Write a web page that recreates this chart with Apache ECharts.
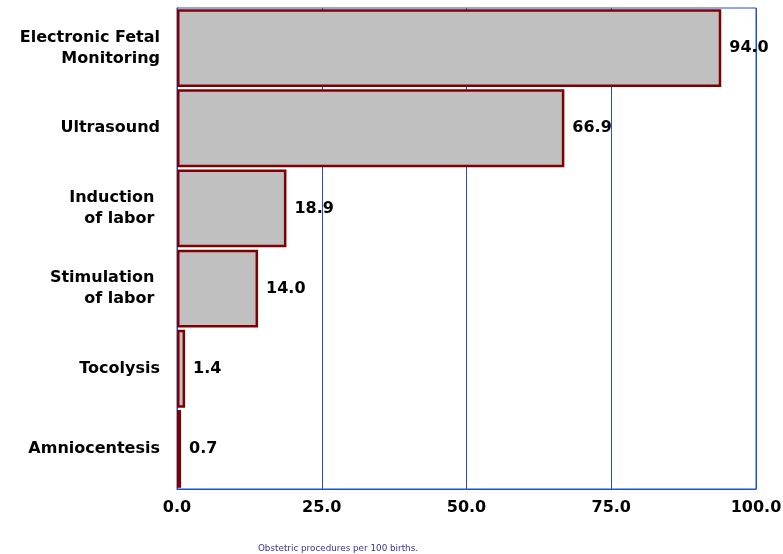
<!DOCTYPE html>
<html><head><meta charset="utf-8">
<script src="https://cdn.jsdelivr.net/npm/echarts@6/dist/echarts.min.js"></script>
<style>html,body{margin:0;padding:0;background:#fff}#c{width:783px;height:554px}</style>
</head><body><div id="c"></div>
<script>
const categories = ["Electronic Fetal\nMonitoring", "Ultrasound", "Induction \nof labor ", "Stimulation \nof labor ", "Tocolysis", "Amniocentesis"];
const values = [94.0, 66.9, 18.9, 14.0, 1.4, 0.7];
const xTicks = [0, 25, 50, 75, 100];
const axisTitle = "Obstetric procedures per 100 births.";

const FONT = "DejaVu Sans";
const BLUE = "#1f4fc9";
const chart = echarts.init(document.getElementById('c'));
chart.setOption({
  animation: false,
  title: {
    text: axisTitle, left: 333, top: 539, textAlign: 'center',
    textStyle: { fontFamily: FONT, fontSize: 8.8, fontWeight: 'normal', color: '#333399' }
  },
  grid: { left: 177, right: 27, top: 8, bottom: 65, outerBoundsMode: 'none', containLabel: false,
    show: true, borderColor: BLUE, borderWidth: 1, backgroundColor: 'transparent' },
  xAxis: {
    type: 'value', min: xTicks[0], max: xTicks[xTicks.length - 1], interval: 25,
    axisLine: { show: true, lineStyle: { color: BLUE, width: 1 } },
    axisTick: { show: false },
    splitLine: { show: true, lineStyle: { color: BLUE, width: 1 } },
    axisLabel: { margin: 11, color: '#000', fontFamily: FONT, fontWeight: 'bold', fontSize: 16,
      formatter: v => v.toFixed(1) }
  },
  yAxis: {
    type: 'category', inverse: true, data: categories,
    axisLine: { show: true, lineStyle: { color: BLUE, width: 1 } },
    axisTick: { show: false },
    axisLabel: { margin: 17, color: '#000', fontFamily: FONT, fontWeight: 'bold', fontSize: 16, lineHeight: 21, align: 'right' }
  },
  series: [{
    type: 'bar', data: values, barCategoryGap: '3%',
    itemStyle: { color: '#c0c0c0', borderColor: '#800000', borderWidth: 2.5 },
    label: { show: true, position: 'right', distance: 8, color: '#000', fontFamily: FONT, fontWeight: 'bold', fontSize: 16,
      formatter: p => p.value.toFixed(1) }
  }]
});
</script></body></html>
